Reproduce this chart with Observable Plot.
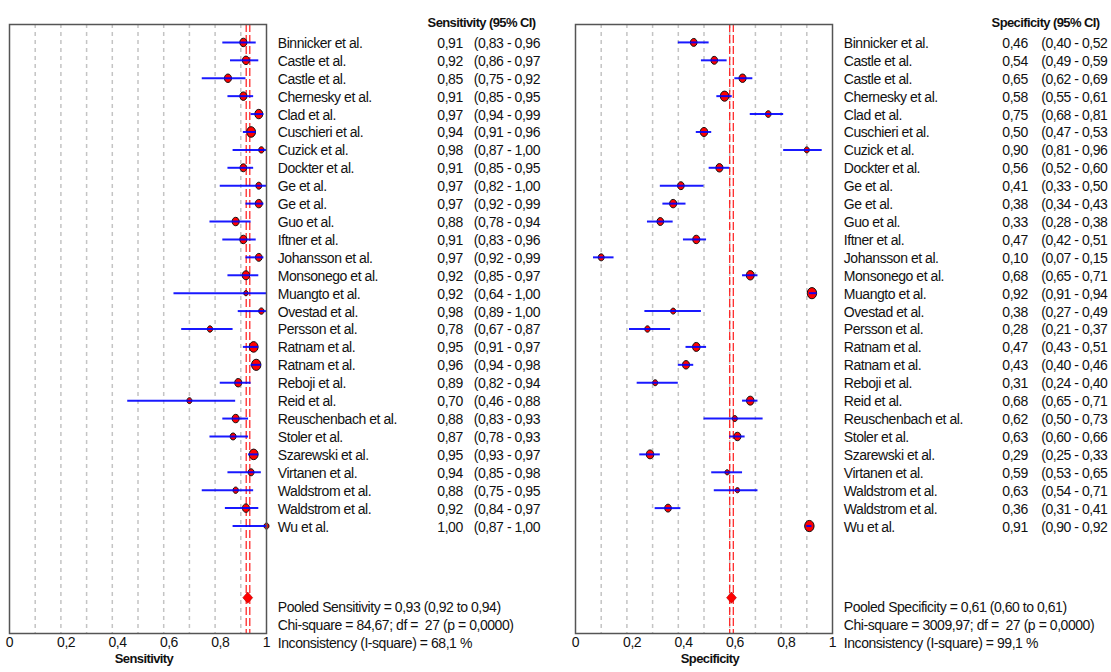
<!DOCTYPE html>
<html>
<head>
<meta charset="utf-8">
<script src="https://cdn.jsdelivr.net/npm/d3@7"></script>
<script src="https://cdn.jsdelivr.net/npm/@observablehq/plot@0.6"></script>
<style>
  html, body { margin: 0; padding: 0; background: white; }
  #wrap { position: relative; width: 1111px; height: 672px; overflow: hidden; }
  #left, #right { position: absolute; top: 0; }
  #left { left: 0; }
  #right { left: 560px; }
  svg text { white-space: pre; letter-spacing: -0.45px; }
  svg g[font-weight="bold"] text { letter-spacing: -0.6px; }
  svg g[aria-label="x-axis tick label"] text { letter-spacing: -0.5px; }
</style>
</head>
<body>
<div id="wrap"><div id="left"></div><div id="right"></div></div>
<script>
// ---------- data ----------
const studies = ["Binnicker et al.","Castle et al.","Castle et al.","Chernesky et al.","Clad et al.","Cuschieri et al.","Cuzick et al.","Dockter et al.","Ge et al.","Ge et al.","Guo et al.","Iftner et al.","Johansson et al.","Monsonego et al.","Muangto et al.","Ovestad et al.","Persson et al.","Ratnam et al.","Ratnam et al.","Reboji et al.","Reid et al.","Reuschenbach et al.","Stoler et al.","Szarewski et al.","Virtanen et al.","Waldstrom et al.","Waldstrom et al.","Wu et al."];

const sens   = [0.91,0.92,0.85,0.91,0.97,0.94,0.98,0.91,0.97,0.97,0.88,0.91,0.97,0.92,0.92,0.98,0.78,0.95,0.96,0.89,0.70,0.88,0.87,0.95,0.94,0.88,0.92,1.00];
const sensLo = [0.83,0.86,0.75,0.85,0.94,0.91,0.87,0.85,0.82,0.92,0.78,0.83,0.92,0.85,0.64,0.89,0.67,0.91,0.94,0.82,0.46,0.83,0.78,0.93,0.85,0.75,0.84,0.87];
const sensHi = [0.96,0.97,0.92,0.95,0.99,0.96,1.00,0.95,1.00,0.99,0.94,0.96,0.99,0.97,1.00,1.00,0.87,0.97,0.98,0.94,0.88,0.93,0.93,0.97,0.98,0.95,0.97,1.00];
// relative study weights (marker area)
const sensWeight = [16,16,16,16,20,25,9,14,11,16,16,16,14,18,6,9,9,25,28,16,8,16,11,25,11,9,16,8];

const spec   = [0.46,0.54,0.65,0.58,0.75,0.50,0.90,0.56,0.41,0.38,0.33,0.47,0.10,0.68,0.92,0.38,0.28,0.47,0.43,0.31,0.68,0.62,0.63,0.29,0.59,0.63,0.36,0.91];
const specLo = [0.40,0.49,0.62,0.55,0.68,0.47,0.81,0.52,0.33,0.34,0.28,0.42,0.07,0.65,0.91,0.27,0.21,0.43,0.40,0.24,0.65,0.50,0.60,0.25,0.53,0.54,0.31,0.90];
const specHi = [0.52,0.59,0.69,0.61,0.81,0.53,0.96,0.60,0.50,0.43,0.38,0.51,0.15,0.71,0.94,0.49,0.37,0.51,0.46,0.40,0.71,0.73,0.66,0.33,0.65,0.71,0.41,0.92];
const specWeight = [14,14,16,23,10,18,8,16,14,16,14,16,11,20,28,8,9,18,16,8,18,8,16,18,6,6,14,28];

const pooledSens = [0.927, 0.921, 0.935];   // estimate, lower, upper
const pooledSpec = [0.607, 0.600, 0.614];

const sensStats = ["Pooled Sensitivity = 0,93 (0,92 to 0,94)", "Chi-square = 84,67; df =  27 (p = 0,0000)", "Inconsistency (I-square) = 68,1 %"];
const specStats = ["Pooled Specificity = 0,61 (0,60 to 0,61)", "Chi-square = 3009,97; df =  27 (p = 0,0000)", "Inconsistency (I-square) = 99,1 %"];

const tickValues = [0, 0.2, 0.4, 0.6, 0.8, 1];
const tickLabels = ["0", "0,2", "0,4", "0,6", "0,8", "1"];
const gridTicks = [0.1, 0.2, 0.3, 0.4, 0.5, 0.6, 0.7, 0.8, 0.9];

// ---------- helpers ----------
const fmt = v => v.toFixed(2).replace(".", ",");
const FONT = '"Liberation Sans", Arial, sans-serif';

const ellipse = {
  draw(ctx, size) {
    const r = Math.sqrt(size / Math.PI), rx = 0.84 * r, ry = r, k = 0.5523;
    ctx.moveTo(rx, 0);
    ctx.bezierCurveTo(rx, k * ry, k * rx, ry, 0, ry);
    ctx.bezierCurveTo(-k * rx, ry, -rx, k * ry, -rx, 0);
    ctx.bezierCurveTo(-rx, -k * ry, -k * rx, -ry, 0, -ry);
    ctx.bezierCurveTo(k * rx, -ry, rx, -k * ry, rx, 0);
    ctx.closePath();
  }
};
const diamond = {
  draw(ctx, size) {
    const r = Math.sqrt(size / Math.PI), w = 0.98 * r, h = 1.12 * r;
    ctx.moveTo(0, -h); ctx.lineTo(w, 0); ctx.lineTo(0, h); ctx.lineTo(-w, 0); ctx.closePath();
  }
};

function panel({values, lo, hi, weight, pooled, header, axisLabel, stats, width, marginLeft, marginRight, d}) {
  const rows = studies.map((name, i) => ({name, row: i + 1, v: values[i], lo: lo[i], hi: hi[i], w: weight[i],
    vs: fmt(values[i]), ci: `(${fmt(lo[i])} - ${fmt(hi[i])}`}));
  const pooledRow = studies.length + 4;
  const statRows = stats.map((t, i) => ({t, row: pooledRow + 0.55 + i}));
  return Plot.plot({
    width, height: 672,
    marginLeft, marginRight, marginTop: 24, marginBottom: 39,
    style: {fontFamily: FONT, fontSize: "14px", color: "#111", background: "white", overflow: "visible"},
    x: {domain: [0, 1]},
    y: {domain: [0, 34], reverse: true, axis: null},
    r: {type: "sqrt", domain: [0, 28], range: [0, 5.6]},
    marks: [
      Plot.ruleX(gridTicks, {stroke: "#c4c4c4", strokeWidth: 1.5, strokeDasharray: "4,4"}),
      Plot.ruleX([pooled[1], pooled[2]], {stroke: "#ff1a1a", strokeWidth: 1.2, strokeDasharray: "8,3"}),
      Plot.dot(rows, {x: "v", y: "row", r: "w", symbol: ellipse, fill: "#ff0000", stroke: "#111", strokeWidth: 1}),
      Plot.ruleY(rows, {y: "row", x1: "lo", x2: "hi", stroke: "#0000ff", strokeWidth: 2, strokeOpacity: 0.9}),
      Plot.dot([pooled[0]], {x: v => v, y: () => pooledRow, r: 5, symbol: diamond, fill: "#ff0000", stroke: "#b00000", strokeWidth: 0.6}),
      Plot.frame({stroke: "#555", strokeWidth: 1.5}),
      Plot.text(rows, {y: "row", text: "name", frameAnchor: "right", textAnchor: "start", dx: d.name, dy: 1, fill: "#111"}),
      Plot.text(rows, {y: "row", text: "vs", frameAnchor: "right", textAnchor: "end", dx: d.val, dy: 1, fill: "#111"}),
      Plot.text(rows, {y: "row", text: "ci", frameAnchor: "right", textAnchor: "start", dx: d.ci, dy: 1, fill: "#111"}),
      Plot.text(statRows, {y: "row", text: "t", frameAnchor: "right", textAnchor: "start", dx: d.name, fill: "#111"}),
      Plot.text([header], {frameAnchor: "top-right", textAnchor: "end", dx: d.head, dy: -7, fontWeight: "bold", fontSize: 13, fill: "#111"}),
      Plot.axisX(tickValues, {tickFormat: v => tickLabels[tickValues.indexOf(v)], tickSize: 0, tickPadding: 4,
        fontSize: 14, textAnchor: "start", dx: -3.8, label: null, fill: "#111"}),
      Plot.text([axisLabel], {frameAnchor: "bottom", dx: 6, dy: 29, fontWeight: "bold", fontSize: 13, fill: "#111"})
    ]
  });
}

document.getElementById("left").appendChild(panel({
  values: sens, lo: sensLo, hi: sensHi, weight: sensWeight, pooled: pooledSens,
  header: "Sensitivity (95% CI)", axisLabel: "Sensitivity", stats: sensStats,
  width: 560, marginLeft: 9, marginRight: 294,
  d: {name: 11.3, val: 196.3, ci: 207.3, head: 269}
}));
document.getElementById("right").appendChild(panel({
  values: spec, lo: specLo, hi: specHi, weight: specWeight, pooled: pooledSpec,
  header: "Specificity (95% CI)", axisLabel: "Specificity", stats: specStats,
  width: 551, marginLeft: 15, marginRight: 279,
  d: {name: 11.3, val: 195.3, ci: 208.7, head: 267}
}));
</script>
</body>
</html>
